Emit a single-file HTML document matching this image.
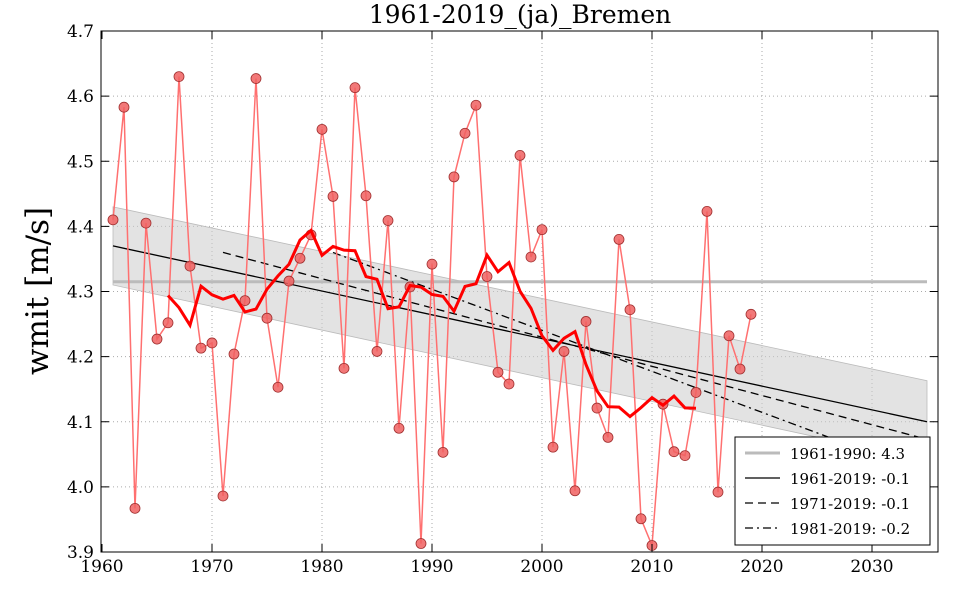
<!DOCTYPE html>
<html><head><meta charset="utf-8"><style>
body{margin:0;background:#fff;}
svg{display:block;font-family:"DejaVu Serif","Liberation Serif",serif;}
</style></head><body>
<svg id="s" width="960" height="600" xmlns="http://www.w3.org/2000/svg">
<rect width="960" height="600" fill="#fff"/>
<g id="grid"></g>
<g id="plot"></g>
<rect x="101" y="31" width="837" height="521" fill="none" stroke="#000" stroke-width="1"/>
<g id="ticks" font-size="17" fill="#000"></g>
<text x="520" y="23" font-size="25" text-anchor="middle">1961-2019_(ja)_Bremen</text>
<text transform="translate(48,291) rotate(-90)" font-size="31" text-anchor="middle">wmit [m/s]</text>
<g>
<rect x="735" y="437" width="195" height="108" fill="#fff" stroke="#000" stroke-width="1"/>
<line x1="745" y1="453" x2="780" y2="453" stroke="#bbb" stroke-width="3"/>
<text x="790" y="459" font-size="15">1961-1990: 4.3</text>
<line x1="745" y1="478" x2="780" y2="478" stroke="#000" stroke-width="1.3"/>
<text x="790" y="484" font-size="15">1961-2019: -0.1</text>
<line x1="745" y1="503" x2="780" y2="503" stroke="#000" stroke-width="1.3" stroke-dasharray="8,5"/>
<text x="790" y="509" font-size="15">1971-2019: -0.1</text>
<line x1="745" y1="528" x2="780" y2="528" stroke="#000" stroke-width="1.3" stroke-dasharray="8,4,2,4"/>
<text x="790" y="534" font-size="15">1981-2019: -0.2</text>
</g>
</svg>
<script>
const X=y=>102+(y-1960)*11, Y=v=>552-(v-3.9)*651.25;
const d=[4.41,4.583,3.967,4.405,4.227,4.252,4.630,4.339,4.213,4.221,3.986,4.204,4.286,4.627,4.259,4.153,4.316,4.351,4.387,4.549,4.446,4.182,4.613,4.447,4.208,4.409,4.09,4.307,3.913,4.342,4.053,4.476,4.543,4.586,4.323,4.176,4.158,4.509,4.353,4.395,4.061,4.208,3.994,4.254,4.121,4.076,4.38,4.272,3.951,3.91,4.127,4.054,4.048,4.145,4.423,3.992,4.232,4.181,4.265];
const ns="http://www.w3.org/2000/svg";
function el(p,t,a){const e=document.createElementNS(ns,t);for(const k in a)e.setAttribute(k,a[k]);document.getElementById(p).appendChild(e);return e;}
for(let yr=1960;yr<=2030;yr+=10){const x=X(yr);
 if(yr>1960)el('grid','line',{x1:x,x2:x,y1:31,y2:552,stroke:'#aaa','stroke-dasharray':'1,3'});
 el('ticks','line',{x1:x,x2:x,y1:552,y2:544,stroke:'#000'});el('ticks','line',{x1:x,x2:x,y1:31,y2:39,stroke:'#000'});
 el('ticks','text',{x:x,y:572,'text-anchor':'middle'}).textContent=yr;}
for(let i=0;i<=8;i++){const v=3.9+i*0.1,y=Y(v);
 if(i>0&&i<8)el('grid','line',{x1:101,x2:938,y1:y,y2:y,stroke:'#aaa','stroke-dasharray':'1,3'});
 el('ticks','line',{x1:101,x2:109,y1:y,y2:y,stroke:'#000'});el('ticks','line',{x1:930,x2:938,y1:y,y2:y,stroke:'#000'});
 el('ticks','text',{x:94,y:y+6,'text-anchor':'end'}).textContent=v.toFixed(1);}
el('plot','polygon',{points:`${X(1961)},${Y(4.43)} ${X(2035)},${Y(4.163)} ${X(2035)},${Y(4.04)} ${X(1961)},${Y(4.31)}`,fill:'#ccc','fill-opacity':0.55,stroke:'#bbb','stroke-width':0.8});
el('plot','line',{x1:X(1961),x2:X(2035),y1:Y(4.315),y2:Y(4.315),stroke:'#bbb','stroke-width':3});
el('plot','line',{x1:X(1961),x2:X(2035),y1:Y(4.37),y2:Y(4.10),stroke:'#000','stroke-width':1.3});
el('plot','line',{x1:X(1971),x2:X(2035),y1:Y(4.36),y2:Y(4.073),stroke:'#000','stroke-width':1.3,'stroke-dasharray':'8,5'});
el('plot','line',{x1:X(1981),x2:X(2035),y1:Y(4.36),y2:Y(4.02),stroke:'#000','stroke-width':1.3,'stroke-dasharray':'8,4,2,4'});
let p=d.map((v,i)=>X(1961+i)+','+Y(v)).join(' ');
el('plot','polyline',{points:p,fill:'none',stroke:'#ff7070','stroke-width':1.5});
d.forEach((v,i)=>el('plot','circle',{cx:X(1961+i),cy:Y(v),r:5,fill:'#f06060','fill-opacity':0.85,stroke:'#a03030','stroke-width':0.8}));
let m=[];for(let yr=1966;yr<=2014;yr++){let s=0;for(let k=-5;k<=5;k++)s+=d[yr-1961+k];m.push(X(yr)+','+Y(s/11));}
el('plot','polyline',{points:m.join(' '),fill:'none',stroke:'#f00','stroke-width':3});
</script>
</body></html>
